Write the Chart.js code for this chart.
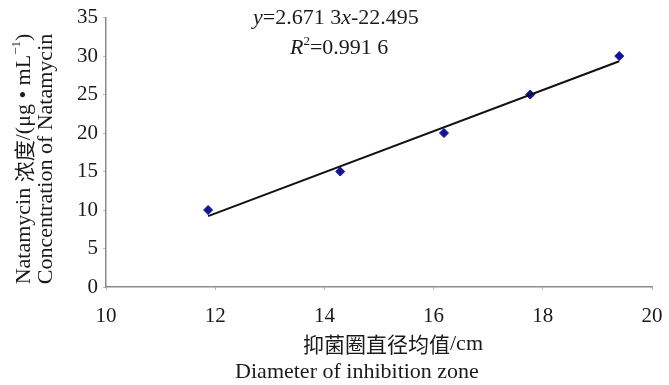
<!DOCTYPE html>
<html>
<head>
<meta charset="utf-8">
<script src="https://cdn.jsdelivr.net/npm/chart.js@4/dist/chart.umd.min.js"></script>
<style>
  html, body { margin: 0; padding: 0; background: #fff; }
  #wrap { width: 669px; height: 385px; position: relative; }
</style>
</head>
<body>
<div id="wrap"><canvas id="chart"></canvas></div>
<script>
// measured points (inhibition zone diameter, concentration)
const diameters = [11.87, 14.29, 16.19, 17.77, 19.40]
const concentrations = [10, 15, 20, 25, 30]

// fitted line y = 2.6713x - 22.495, drawn across the data range
const fitSlope = 2.6713
const fitIntercept = -22.495
const fitRange = [11.87, 19.40]

const xTicks = [10, 12, 14, 16, 18, 20]
const yTicks = [0, 5, 10, 15, 20, 25, 30, 35]

const serif = "'Liberation Serif', 'Times New Roman', 'Noto Sans CJK SC', serif"
const cjk = "'Noto Sans CJK SC', 'Liberation Serif', serif"

let points = diameters.map((d, i) => ({ x: d, y: concentrations[i] }))
let fitLine = fitRange.map(x => ({ x: x, y: fitSlope * x + fitIntercept }))

// width of a list of styled text runs
function runsWidth(ctx, runs) {
  let total = 0
  runs.forEach(r => { ctx.font = r.font; total += ctx.measureText(r.text).width })
  return total
}

// draw runs of text with different styles one after another
function drawRuns(ctx, runs, x, y) {
  runs.forEach(r => {
    ctx.font = r.font
    ctx.fillText(r.text, x, y + (r.dy || 0))
    x += ctx.measureText(r.text).width
  })
}

const labelsPlugin = {
  id: 'labels',
  afterDraw(chart) {
    const ctx = chart.ctx
    ctx.save()
    ctx.fillStyle = '#1a1a1a'
    ctx.textBaseline = 'middle'
    ctx.textAlign = 'left'

    // equation and R^2
    drawRuns(ctx, [
      { text: 'y', font: 'italic 22px ' + serif },
      { text: '=2.671 3', font: '22px ' + serif },
      { text: 'x', font: 'italic 22px ' + serif },
      { text: '-22.495', font: '22px ' + serif }
    ], 253, 18)
    drawRuns(ctx, [
      { text: 'R', font: 'italic 22px ' + serif },
      { text: '2', font: '13px ' + serif, dy: -6 },
      { text: '=0.991 6', font: '22px ' + serif }
    ], 290, 48)

    // x axis titles
    let xRuns = [
      { text: '抑菌圈直径均值', font: '21px ' + cjk },
      { text: '/cm', font: '22px ' + serif }
    ]
    drawRuns(ctx, xRuns, 393 - runsWidth(ctx, xRuns) / 2, 344)
    ctx.textAlign = 'center'
    ctx.font = '22px ' + serif
    ctx.fillText('Diameter of inhibition zone', 357, 372)

    // y axis titles, rotated
    ctx.save()
    ctx.translate(24, 159)
    ctx.rotate(-Math.PI / 2)
    ctx.textAlign = 'left'
    let yRuns = [
      { text: 'Natamycin ', font: '22px ' + serif },
      { text: '浓度', font: '21px ' + cjk },
      { text: '/(μg • mL', font: '22px ' + serif },
      { text: '−1', font: '13px ' + serif, dy: -7 },
      { text: ')', font: '22px ' + serif }
    ]
    drawRuns(ctx, yRuns, -runsWidth(ctx, yRuns) / 2, 0)
    ctx.restore()

    ctx.save()
    ctx.translate(46, 159)
    ctx.rotate(-Math.PI / 2)
    ctx.textAlign = 'center'
    ctx.font = '22px ' + serif
    ctx.fillText('Concentration of Natamycin', 0, 0)
    ctx.restore()

    ctx.restore()
  }
}

new Chart(document.querySelector('#chart'), {
  type: 'scatter',
  data: {
    datasets: [{
      label: 'fit',
      type: 'line',
      data: fitLine,
      borderColor: '#111',
      borderWidth: 2,
      pointRadius: 0,
      fill: false
    }, {
      label: 'data',
      data: points,
      pointStyle: 'rectRot',
      pointRadius: 4.5,
      backgroundColor: '#12129a',
      borderColor: '#12129a',
      borderWidth: 1
    }]
  },
  options: {
    responsive: true,
    maintainAspectRatio: false,
    animation: false,
    layout: { padding: { top: 17, right: 17, left: 0, bottom: 0 } },
    plugins: { legend: { display: false }, tooltip: { enabled: false } },
    scales: {
      x: {
        type: 'linear',
        min: 10,
        max: 20,
        afterBuildTicks: s => { s.ticks = xTicks.map(v => ({ value: v })) },
        afterFit: s => {
          s.height = 98
          s.paddingRight = 0
          s.paddingLeft = 0
        },
        grid: { drawOnChartArea: false, color: '#bbb', tickLength: 3 },
        border: { color: '#8a8a8a', width: 1.5 },
        ticks: { padding: 14, color: '#1a1a1a', font: { family: serif, size: 21 } }
      },
      y: {
        min: 0,
        max: 35,
        afterBuildTicks: s => { s.ticks = yTicks.map(v => ({ value: v })) },
        afterFit: s => { s.width = 106 },
        grid: { drawOnChartArea: false, color: '#bbb', tickLength: 3 },
        border: { color: '#8a8a8a', width: 1.5 },
        ticks: { padding: 5, color: '#1a1a1a', font: { family: serif, size: 21 } }
      }
    }
  },
  plugins: [labelsPlugin]
})
</script>
</body>
</html>
